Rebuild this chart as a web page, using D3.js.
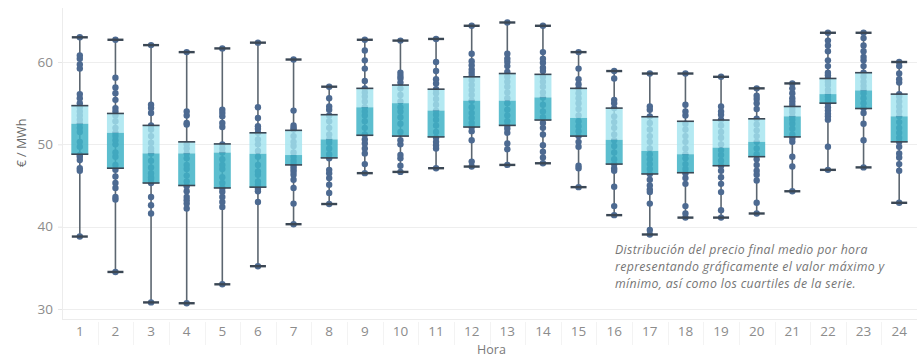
<!DOCTYPE html>
<html>
<head>
<meta charset="utf-8">
<script src="https://cdn.jsdelivr.net/npm/d3@7"></script>
<style>
  html, body { margin: 0; padding: 0; background: #fff; }
  svg { display: block; }
</style>
</head>
<body>
<svg id="chart" width="918" height="359"></svg>
<script>
// ---- Data ----
const hours = ["1","2","3","4","5","6","7","8","9","10","11","12","13","14","15","16","17","18","19","20","21","22","23","24"];
const mins    = [38.8, 34.5, 30.8, 30.7, 33.0, 35.2, 40.3, 42.75, 46.5, 46.65, 47.1, 47.3, 47.5, 47.7, 44.8, 41.4, 39.05, 41.1, 41.1, 41.6, 44.3, 46.9, 47.2, 42.9];
const q1s     = [48.8, 47.1, 45.3, 45.0, 44.7, 44.8, 47.5, 48.35, 51.1, 51.0, 50.9, 52.1, 52.3, 52.95, 51.0, 47.6, 46.4, 46.55, 47.4, 48.5, 50.9, 55.0, 54.35, 50.3];
const medians = [52.5, 51.4, 48.9, 48.9, 49.0, 48.85, 48.7, 50.6, 54.5, 55.0, 54.1, 55.3, 55.3, 55.7, 53.2, 50.55, 49.2, 48.8, 49.6, 50.3, 53.4, 56.1, 56.55, 53.4];
const q3s     = [54.7, 53.75, 52.3, 50.3, 50.05, 51.4, 51.7, 53.6, 56.8, 57.2, 56.7, 58.2, 58.6, 58.5, 56.8, 54.4, 53.35, 52.8, 52.95, 53.1, 54.6, 58.0, 58.7, 56.1];
const maxs    = [63.0, 62.7, 62.05, 61.2, 61.65, 62.35, 60.3, 57.0, 62.7, 62.6, 62.8, 64.4, 64.8, 64.4, 61.2, 58.9, 58.6, 58.6, 58.2, 56.8, 57.4, 63.55, 63.55, 60.0];
const points = [
  [38.8, 46.8, 47.1, 48.1, 48.5, 48.7, 49.7, 50.3, 51.5, 52.0, 52.5, 53.0, 53.5, 54.0, 54.5, 55.0, 55.6, 56.1, 59.2, 59.7, 60.4, 60.8, 63.0],
  [34.5, 43.3, 43.6, 44.7, 45.3, 46.1, 46.9, 47.5, 48.5, 49.0, 50.0, 50.5, 51.0, 51.4, 52.0, 52.8, 53.5, 54.0, 54.4, 55.4, 56.2, 56.9, 58.1, 62.7],
  [30.8, 41.6, 42.6, 43.6, 45.3, 45.8, 46.0, 46.5, 47.2, 48.0, 48.9, 49.2, 49.5, 50.2, 51.0, 51.8, 52.3, 53.8, 54.4, 54.8, 62.05],
  [30.7, 42.2, 42.8, 43.2, 43.6, 44.3, 44.9, 45.5, 46.2, 47.0, 47.5, 48.3, 48.9, 49.5, 50.0, 52.4, 52.6, 53.5, 54.0, 61.2],
  [33.0, 42.4, 43.0, 43.6, 44.25, 44.7, 45.3, 46.0, 47.0, 47.5, 48.2, 49.0, 49.5, 50.0, 52.1, 52.6, 53.4, 53.8, 54.2, 61.65],
  [35.2, 43.0, 44.3, 44.6, 45.1, 45.5, 46.3, 46.7, 47.5, 48.5, 49.2, 50.0, 50.6, 51.4, 51.9, 52.2, 53.2, 54.5, 62.35],
  [40.3, 42.8, 44.7, 45.7, 46.3, 46.7, 47.0, 47.3, 47.6, 48.0, 48.5, 49.0, 49.8, 50.3, 51.0, 51.8, 52.0, 52.3, 54.1, 60.3],
  [42.75, 44.1, 45.1, 45.9, 46.5, 46.9, 48.3, 48.8, 49.5, 50.2, 50.6, 51.2, 52.0, 52.8, 53.5, 54.2, 54.6, 55.6, 57.0],
  [46.5, 47.6, 48.9, 49.5, 50.1, 50.6, 51.2, 52.0, 52.8, 53.5, 54.0, 54.5, 55.2, 55.8, 56.3, 56.8, 57.7, 59.2, 60.2, 61.4, 62.7],
  [46.65, 47.4, 48.3, 48.7, 50.0, 50.5, 51.5, 52.5, 53.3, 54.0, 54.5, 55.2, 56.0, 56.8, 57.5, 58.0, 58.3, 58.7, 62.6],
  [47.1, 49.5, 49.9, 50.3, 50.8, 51.5, 52.3, 53.0, 53.6, 54.1, 54.8, 55.5, 56.2, 56.7, 57.4, 57.9, 58.9, 60.0, 62.8],
  [47.3, 47.9, 50.5, 51.6, 52.1, 52.6, 53.2, 53.8, 54.5, 55.3, 56.0, 56.6, 57.2, 57.8, 58.3, 58.7, 59.1, 59.6, 60.1, 61.0, 64.4],
  [47.5, 49.4, 50.1, 51.4, 51.9, 52.3, 52.8, 53.5, 54.2, 55.0, 55.6, 56.3, 57.0, 57.6, 58.2, 58.8, 59.5, 60.0, 60.4, 61.0, 64.8],
  [47.7, 48.4, 49.1, 49.9, 51.2, 52.0, 52.6, 53.3, 54.0, 54.8, 55.7, 56.3, 57.0, 57.6, 58.2, 58.9, 59.3, 59.9, 60.4, 61.2, 64.4],
  [44.8, 47.1, 47.4, 49.7, 50.3, 51.0, 51.6, 52.2, 52.8, 53.5, 54.3, 55.0, 55.6, 56.2, 56.8, 57.3, 57.9, 59.2, 61.2],
  [41.4, 42.5, 44.85, 46.8, 47.1, 47.6, 48.2, 49.0, 49.8, 50.5, 51.2, 52.0, 52.7, 53.4, 54.4, 55.0, 55.4, 58.0, 58.9],
  [39.05, 39.6, 42.8, 44.2, 44.5, 45.0, 45.7, 46.4, 47.0, 47.6, 48.2, 48.8, 49.5, 50.3, 51.0, 51.8, 52.6, 53.4, 54.2, 54.6, 58.6],
  [41.1, 41.6, 42.5, 45.2, 45.9, 46.5, 47.0, 47.6, 48.3, 48.8, 49.5, 50.3, 51.0, 51.8, 52.5, 53.5, 54.0, 54.8, 58.6],
  [41.1, 42.0, 44.2, 45.2, 46.0, 46.8, 47.4, 48.0, 48.7, 49.3, 50.0, 50.8, 51.5, 52.3, 53.0, 53.6, 54.0, 54.6, 58.2],
  [41.6, 42.9, 45.6, 46.3, 46.8, 47.5, 48.2, 48.8, 49.5, 50.3, 51.0, 51.7, 52.4, 53.1, 54.3, 55.0, 55.5, 55.9, 56.8],
  [44.3, 47.3, 48.5, 50.3, 50.7, 51.2, 51.9, 52.5, 53.0, 53.4, 53.9, 54.3, 54.8, 55.2, 55.6, 56.2, 56.8, 57.4],
  [46.9, 49.7, 53.0, 53.4, 53.7, 54.1, 54.5, 55.0, 55.4, 55.8, 56.1, 56.6, 57.2, 57.6, 58.0, 58.4, 58.7, 59.5, 60.2, 61.3, 62.0, 62.6, 63.55],
  [47.2, 50.5, 52.5, 53.8, 54.4, 55.0, 55.6, 56.2, 56.6, 57.1, 57.6, 58.2, 58.7, 59.5, 60.2, 60.6, 61.3, 62.0, 62.9, 63.55],
  [42.9, 46.8, 47.6, 48.4, 48.9, 49.7, 50.3, 50.8, 51.4, 52.0, 52.7, 53.4, 54.0, 54.6, 55.2, 55.8, 56.1, 57.5, 57.9, 58.6, 59.5, 60.0]
];
const yTicks = [30, 40, 50, 60];
const yTitle = "€ / MWh";
const xTitle = "Hora";
const noteLines = [
  "Distribución del precio final medio por hora",
  "representando gráficamente el valor máximo y",
  "mínimo, así como los cuartiles de la serie."
];

// ---- Layout ----
const svg = d3.select("#chart");
const W = 918, H = 359;
const plot = { left: 62, right: 917, top: 8, bottom: 319 };

svg.append("rect").attr("width", W).attr("height", H).attr("fill", "#fff");

const x = d3.scaleBand().domain(hours).range([plot.left, plot.right]).paddingInner(0).paddingOuter(0);
const y = d3.scaleLinear().domain([30, 60]).range([309, 62]);

const font = "'Open Sans', 'Noto Sans', sans-serif";

// gridlines
svg.append("g").selectAll("line").data(yTicks).join("line")
  .attr("x1", plot.left).attr("x2", plot.right)
  .attr("y1", d => Math.round(y(d)) + 0.5).attr("y2", d => Math.round(y(d)) + 0.5)
  .attr("stroke", "#eeeeee").attr("stroke-width", 1);

// plot frame lines (left axis, bottom header line)
svg.append("line").attr("x1", plot.left + 0.5).attr("x2", plot.left + 0.5)
  .attr("y1", plot.top).attr("y2", plot.bottom).attr("stroke", "#ececec");
svg.append("line").attr("x1", plot.left).attr("x2", plot.right)
  .attr("y1", plot.bottom + 0.5).attr("y2", plot.bottom + 0.5).attr("stroke", "#ececec");

// y axis
const yAxis = d3.axisLeft(y).tickValues(yTicks).tickSize(4).tickPadding(5).tickFormat(d3.format("d"));
const gy = svg.append("g").attr("transform", `translate(${plot.left},0)`).call(yAxis);
gy.select(".domain").remove();
gy.selectAll(".tick line").attr("stroke", "#e6e6e6");
gy.selectAll(".tick text").attr("fill", "#8c8c8c").style("font-family", font).style("font-size", "13.5px");

// x axis (header)
const xAxis = d3.axisBottom(x).tickSize(0).tickPadding(7);
const gx = svg.append("g").attr("transform", `translate(0,${plot.bottom})`).call(xAxis);
gx.select(".domain").remove();
gx.selectAll(".tick text").attr("fill", "#8c8c8c").style("font-family", font).style("font-size", "13.5px");

// faint header separators
svg.append("g").selectAll("line").data(hours.slice(1)).join("line")
  .attr("x1", d => Math.round(x(d)) + 0.5).attr("x2", d => Math.round(x(d)) + 0.5)
  .attr("y1", plot.bottom + 3).attr("y2", plot.bottom + 26)
  .attr("stroke", "#f3f3f3");

// titles
svg.append("text").attr("x", (plot.left + plot.right) / 2 + 2).attr("y", 354)
  .attr("text-anchor", "middle").attr("fill", "#7a7a7a")
  .style("font-family", font).style("font-size", "12.5px").text(xTitle);
svg.append("text").attr("transform", `translate(26,143) rotate(-90)`)
  .attr("text-anchor", "middle").attr("fill", "#6a6a6a")
  .style("font-family", font).style("font-size", "12.5px").text(yTitle);

// ---- Marks ----
const bw = 17, capW = 16;
const cx = i => x(hours[i]) + x.bandwidth() / 2;

const g = svg.append("g");
// whiskers
g.selectAll(".whisker").data(hours).join("line")
  .attr("x1", (d, i) => cx(i)).attr("x2", (d, i) => cx(i))
  .attr("y1", (d, i) => y(mins[i])).attr("y2", (d, i) => y(maxs[i]))
  .attr("stroke", "#5c6670").attr("stroke-width", 1.6);

// points
hours.forEach((h, i) => {
  g.append("g").selectAll("circle").data(points[i]).join("circle")
    .attr("cx", cx(i)).attr("cy", d => y(d)).attr("r", 3.2)
    .attr("fill", "#4d6a91");
});

// boxes: median->Q3 light, Q1->median dark
g.selectAll(".upper").data(hours).join("rect")
  .attr("x", (d, i) => cx(i) - bw / 2).attr("width", bw)
  .attr("y", (d, i) => y(q3s[i])).attr("height", (d, i) => y(medians[i]) - y(q3s[i]))
  .attr("fill", "#a4e4ef").attr("fill-opacity", 0.82);
g.selectAll(".lower").data(hours).join("rect")
  .attr("x", (d, i) => cx(i) - bw / 2).attr("width", bw)
  .attr("y", (d, i) => y(medians[i])).attr("height", (d, i) => y(q1s[i]) - y(medians[i]))
  .attr("fill", "#3fb3c7").attr("fill-opacity", 0.85);

// quartile edges
[q1s, q3s].forEach(arr => {
  g.append("g").selectAll("line").data(hours).join("line")
    .attr("x1", (d, i) => cx(i) - bw / 2).attr("x2", (d, i) => cx(i) + bw / 2)
    .attr("y1", (d, i) => y(arr[i])).attr("y2", (d, i) => y(arr[i]))
    .attr("stroke", "#3b4754").attr("stroke-width", 1.6);
});
// caps
[mins, maxs].forEach(arr => {
  g.append("g").selectAll("line").data(hours).join("line")
    .attr("x1", (d, i) => cx(i) - capW / 2).attr("x2", (d, i) => cx(i) + capW / 2)
    .attr("y1", (d, i) => y(arr[i])).attr("y2", (d, i) => y(arr[i]))
    .attr("stroke", "#3b4754").attr("stroke-width", 2.4);
});

// annotation
const note = svg.append("text").attr("x", 615).attr("y", 254)
  .attr("fill", "#767676").style("font-family", font).style("font-size", "12.3px")
  .style("font-style", "italic").style("letter-spacing", "0.35px");
note.selectAll("tspan").data(noteLines).join("tspan")
  .attr("x", 615).attr("dy", (d, i) => i === 0 ? 0 : 17).text(d => d);
</script>
</body>
</html>
